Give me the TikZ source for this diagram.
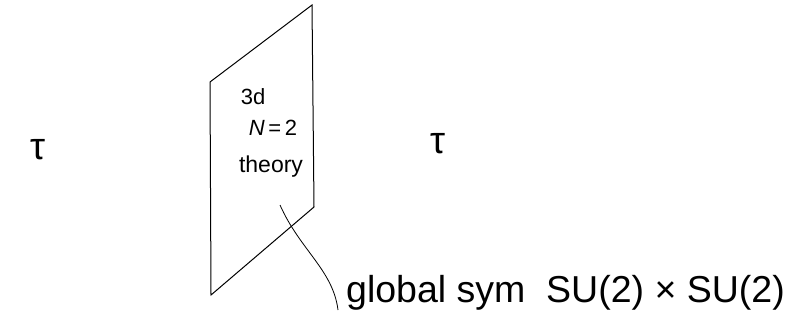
\documentclass[tikz,border=0pt]{standalone}
\usepackage{fontspec}
\setmainfont{Liberation Sans}
\begin{document}
\begin{tikzpicture}[x=1pt,y=-1pt,
  line/.style={draw=black,line width=1pt},
  lbl/.style={inner sep=0pt,anchor=center}]
\useasboundingbox (0,0) rectangle (789,327);
% sheet
\coordinate (tl) at (210,82);
\coordinate (tr) at (312,5);
\coordinate (br) at (314,207);
\coordinate (bl) at (211,295);
\draw[line] (tl) -- (tr) -- (br) -- (bl) -- cycle;
% labels on sheet
\node[lbl,font=\fontsize{22}{24}\selectfont] (d3) at (253,97) {3d};
\node[lbl,font=\fontsize{22}{24}\selectfont] (n2) at (273,128) {\textit{N}\,=\,2};
\node[lbl,font=\fontsize{23}{25}\selectfont] (th) at (271,167) {theory};
% taus
\node[lbl,font=\fontsize{38}{40}\selectfont] (tauL) at (38,150) {τ};
\node[lbl,font=\fontsize{38}{40}\selectfont] (tauR) at (438,144) {τ};
% global symmetry label
\node[lbl,anchor=west,font=\fontsize{37.5}{40}\selectfont] (gs) at (346,293) {global sym\ \ SU(2) × SU(2)};
\coordinate (cs) at (280,205);
\draw[line,line width=0.8pt] (cs) .. controls (300,250) and (333,270) .. (338,310);
\end{tikzpicture}
\end{document}
